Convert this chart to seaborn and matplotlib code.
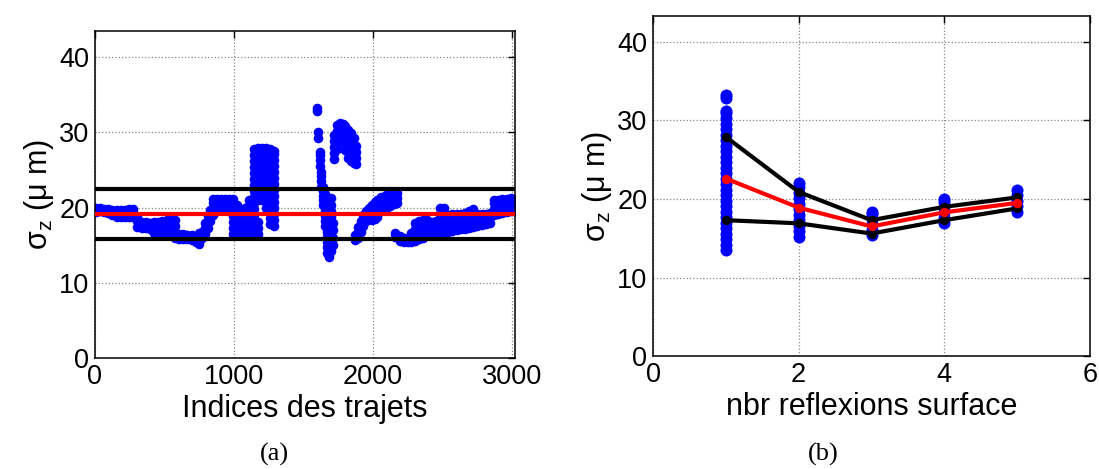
# sigma_z per trajectory, and by number of surface reflections

import pandas as pd
import matplotlib
matplotlib.use("Agg")
import matplotlib.pyplot as plt
import seaborn as sns

# (a) sigma_z, grouped in columns of trajectory index
traj_idx = [5, 35, 65, 95, 125, 155, 185, 215, 245, 275,
            305, 335, 365, 395, 425, 455, 485, 515, 545, 575,
            605, 635, 665, 695, 725, 745, 770, 790, 810, 830, 850,
            875, 905, 935, 965, 995, 1020, 1050, 1080, 1110, 1140,
            1170, 1200, 1230, 1260, 1290,
            1595, 1605, 1615, 1625, 1640, 1655, 1670, 1685, 1700, 1715,
            1720, 1740, 1760, 1780, 1800, 1820, 1840, 1860, 1875,
            1870, 1890, 1910, 1930, 1950, 1970, 1990, 2010, 2030, 2060,
            2090, 2120, 2150, 2170,
            2160, 2190, 2220, 2250, 2270,
            2300, 2330, 2360, 2390, 2420, 2450, 2480, 2510,
            2540, 2570, 2600, 2630, 2660, 2690, 2720, 2750, 2780, 2810, 2840,
            2870, 2900, 2930, 2960, 2990, 3015]
traj_sigma = [
    [19.4, 19.9], [19.5, 19.9], [19.4, 19.8], [19.3, 19.8], [19.0, 19.7],
    [18.7, 19.3, 19.7], [18.7, 19.3, 19.7], [18.7, 19.2, 19.7], [18.7, 19.2, 19.8], [18.8, 19.3, 19.8],
    [17.4, 18.2, 18.9], [17.3, 18.1], [17.3, 18.1], [17.2, 18.0], [16.6, 17.4, 18.1],
    [16.6, 17.4, 18.1], [16.6, 17.4, 18.2], [16.6, 17.4, 18.3], [16.7, 17.5, 18.4], [16.0, 16.8, 17.6, 18.4],
    [15.8, 16.5], [15.8, 16.5], [15.8, 16.4], [15.7, 16.4], [15.4, 16.2], [15.2, 15.9, 16.6],
    [16.0, 16.8], [16.5, 17.3, 18.0], [17.3, 18.1, 18.9], [18.2, 19.0, 19.7], [19.0, 19.8, 20.6, 21.2],
    [19.6, 20.4, 21.2], [19.7, 20.4, 21.2], [19.7, 20.4, 21.2], [19.6, 20.4, 21.2],
    [16.5, 17.3, 18.1, 18.9, 19.6, 20.4, 21.1],
    [16.5, 17.3, 18.1, 18.9, 19.6, 20.3],
    [16.3, 17.1, 17.9, 18.7, 19.4],
    [16.3, 17.1, 17.9, 18.7, 19.4, 20.0],
    [16.3, 17.1, 17.9, 18.7, 19.5, 20.3, 21.0],
    [16.3, 17.1, 17.9, 19.0, 19.8, 20.6, 21.4, 22.2, 23.0, 23.8, 24.6, 25.4, 26.2, 27.0, 27.8],
    [16.5, 17.3, 18.1, 21.0, 21.8, 22.6, 23.4, 24.2, 25.0, 25.8, 26.6, 27.4, 27.9],
    [21.0, 21.8, 22.6, 23.4, 24.2, 25.0, 25.8, 26.6, 27.4, 27.9],
    [20.0, 20.8, 21.6, 22.4, 23.2, 24.0, 24.8, 25.6, 26.4, 27.2, 27.9],
    [17.8, 18.6, 19.4, 20.2, 21.0, 21.8, 22.6, 23.4, 24.2, 25.0, 25.8, 26.6, 27.4, 27.8],
    [17.6, 18.4, 19.2, 20.0, 20.8, 21.6, 22.4, 23.2, 24.0, 24.8, 25.6, 26.4, 27.2, 27.6],
    [32.8, 33.3], [29.2, 30.0], [25.6, 26.3, 27.0, 27.4], [22.8, 23.5, 24.2, 24.8],
    [20.4, 21.0, 21.6, 22.2, 22.8], [17.5, 18.2, 18.9, 19.6, 20.3, 21.0, 21.8],
    [14.0, 14.7, 15.4, 16.1, 16.8, 17.5, 18.2, 18.9, 19.6],
    [13.5, 14.2, 14.9, 15.6, 16.3, 17.0, 17.7, 20.2, 21.0],
    [14.2, 14.9, 15.6, 16.3, 17.2, 18.0, 18.8, 19.6, 20.4, 21.3],
    [15.0, 16.0, 17.0, 18.0],
    [26.5, 27.3, 28.1, 28.9, 29.7], [27.8, 28.6, 29.4, 30.2, 31.0], [29.2, 30.0, 30.8, 31.3],
    [28.9, 29.7, 30.5, 31.1], [27.7, 28.5, 29.3, 30.1, 30.8], [26.6, 27.4, 28.2, 29.0, 29.8, 30.3],
    [26.2, 27.0, 27.8, 28.6, 29.4, 29.9], [26.0, 26.8, 27.6, 28.4, 29.2], [25.8, 26.6, 27.4, 28.2],
    [15.7, 16.4], [16.0, 16.8, 17.4], [16.8, 17.6, 18.2], [17.6, 18.4, 19.0], [18.2, 19.0, 19.6],
    [18.5, 19.3, 20.0], [18.4, 19.2, 20.0, 20.4], [18.5, 19.3, 20.1, 20.7], [18.8, 19.6, 20.4, 21.0],
    [19.5, 20.3, 21.1, 21.4], [19.8, 20.6, 21.3, 21.7], [20.2, 21.0, 21.7, 22.0], [20.5, 21.3, 22.0],
    [20.6, 21.3, 21.9],
    [16.1, 16.6], [15.6, 16.2], [15.4, 16.0], [15.4, 16.0], [15.4, 16.0, 16.6],
    [15.5, 16.3, 17.1, 17.9], [15.8, 16.6, 17.4, 18.2], [16.0, 16.8, 17.6, 18.3], [16.3, 17.1, 17.9, 18.3],
    [16.5, 17.3, 18.1], [16.6, 17.4, 18.2], [16.7, 17.5, 18.3, 19.1, 19.9], [16.8, 17.6, 18.4, 19.2, 20.0],
    [16.8, 17.6, 18.4, 19.0], [16.9, 17.7, 18.5, 19.1], [17.0, 17.8, 18.6, 19.2], [17.1, 17.9, 18.7, 19.2],
    [17.2, 18.0, 18.8, 19.3], [17.3, 18.1, 18.9, 19.6], [17.4, 18.2, 19.0, 19.8], [17.6, 18.4, 19.1],
    [17.7, 18.5, 19.2], [17.8, 18.6, 19.2], [17.9, 18.7, 19.3],
    [19.0, 19.8, 20.6, 21.0], [19.2, 20.0, 20.8, 21.0], [19.3, 20.1, 20.9, 21.1],
    [19.4, 20.2, 21.0, 21.2], [19.5, 20.3, 21.1, 21.3], [19.6, 20.4, 21.0],
]
mean_a = 19.2
band_a = [15.8, 22.5]

# (b) sigma_z grouped by number of surface reflections
refl_1 = [13.5, 14.2, 14.9, 15.6, 16.3, 17.0, 17.7, 18.4, 19.1, 19.8, 20.5, 21.2, 21.9,
          22.6, 23.3, 24.0, 24.7, 25.4, 26.1, 26.8, 27.5, 28.2, 28.9, 29.6, 30.3, 31.0,
          31.2, 32.9, 33.3]
refl_2 = [15.2, 15.9, 16.6, 17.3, 18.0, 18.7, 19.4, 20.1, 20.8, 21.5, 22.0]
refl_3 = [15.4, 16.1, 16.8, 17.5, 18.1, 18.4]
refl_4 = [16.9, 17.6, 18.3, 19.0, 19.6, 20.0]
refl_5 = [18.4, 19.1, 19.8, 20.5, 21.1]

nbr_refl = [1, 2, 3, 4, 5]
mean_b = [22.6, 18.9, 16.5, 18.3, 19.5]
upper_b = [27.9, 20.9, 17.3, 19.0, 20.2]
lower_b = [17.3, 16.9, 15.6, 17.3, 18.8]

# tables for seaborn
rows = []
for x, ys in zip(traj_idx, traj_sigma):
    for y in ys:
        rows.append((x, y))
df_a = pd.DataFrame(rows, columns=["idx", "sigma"])

rows = []
for n, ys in zip(nbr_refl, [refl_1, refl_2, refl_3, refl_4, refl_5]):
    for y in ys:
        rows.append((n, y))
df_b = pd.DataFrame(rows, columns=["n", "sigma"])

sns.set_style("white")
plt.rcParams["font.family"] = ["Liberation Sans", "DejaVu Sans"]
plt.rcParams["mathtext.fontset"] = "custom"
plt.rcParams["mathtext.rm"] = "Liberation Sans"
plt.rcParams["mathtext.it"] = "Liberation Sans"
for key in ["text.color", "axes.labelcolor", "xtick.color", "ytick.color"]:
    plt.rcParams[key] = "black"

fig = plt.figure(figsize=(10.99, 4.69), dpi=100)
ax1 = fig.add_axes([0.0864, 0.2367, 0.3822, 0.6972])
ax2 = fig.add_axes([0.5942, 0.2409, 0.3976, 0.7249])

# (a)
sns.scatterplot(data=df_a, x="idx", y="sigma", color="blue", s=48, linewidth=0,
                ax=ax1, zorder=2)
for y in band_a:
    ax1.axhline(y, color="black", lw=3, zorder=3)
ax1.axhline(mean_a, color="red", lw=3, zorder=4)
ax1.set_xlim(0, 3020)
ax1.set_ylim(0, 43.5)
ax1.set_xticks([0, 1000, 2000, 3000])
ax1.set_yticks([0, 10, 20, 30, 40])
ax1.set_xlabel("Indices des trajets", fontsize=22, labelpad=3)

# (b)
sns.scatterplot(data=df_b, x="n", y="sigma", color="blue", s=75, linewidth=0,
                ax=ax2, zorder=2)
sns.lineplot(x=nbr_refl, y=upper_b, color="black", lw=3, marker="o", ms=6,
             mec="black", ax=ax2, zorder=3)
sns.lineplot(x=nbr_refl, y=lower_b, color="black", lw=3, marker="o", ms=6,
             mec="black", ax=ax2, zorder=3)
sns.lineplot(x=nbr_refl, y=mean_b, color="red", lw=3, marker="o", ms=6,
             mec="red", ax=ax2, zorder=4)
ax2.set_xlim(0, 6)
ax2.set_ylim(0, 43.3)
ax2.set_xticks([0, 2, 4, 6])
ax2.set_yticks([0, 10, 20, 30, 40])
ax2.set_xlabel("nbr reflexions surface", fontsize=22, labelpad=3)

for ax in (ax1, ax2):
    ax.set_ylabel(r"σ$_z$ (μ m)", fontsize=22, labelpad=2)
    ax.grid(True, linestyle=":", color="#888888", lw=0.9)
    ax.tick_params(direction="in", length=5, width=1, labelsize=19.5,
                   top=True, right=True, pad=4)
    for sp in ax.spines.values():
        sp.set_linewidth(1.1)
        sp.set_color("black")

fig.text(0.250, 0.03, "(a)", fontsize=19, family="Liberation Serif",
         ha="center", va="center")
fig.text(0.749, 0.03, "(b)", fontsize=19, family="Liberation Serif",
         ha="center", va="center")

fig.savefig("out.png", dpi=100)
